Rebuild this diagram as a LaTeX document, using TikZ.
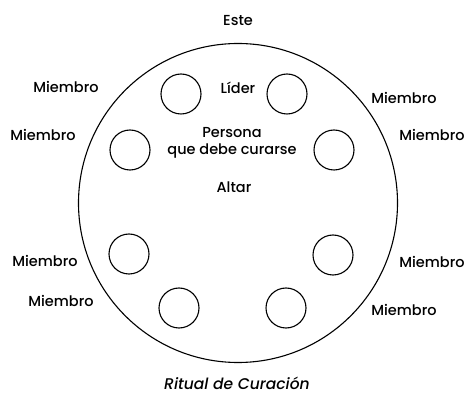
\documentclass[tikz,border=0pt]{standalone}
\usepackage{fontspec}
\setmainfont{Poppins Medium}[ItalicFont={Poppins Medium Italic}]
\begin{document}
\begin{tikzpicture}[x=1pt,y=-1pt,
  seat/.style={draw,circle,minimum size=40pt,inner sep=0pt,line width=1.1pt},
  lbl/.style={font=\fontsize{14.5}{16}\selectfont,inner sep=0pt},
]
\useasboundingbox (0,0) rectangle (466,395);
\node[draw,circle,minimum size=319pt,inner sep=0pt,line width=1.1pt] (ring) at (238,203) {};
\node[seat] (s1) at (181,94) {};
\node[seat] (s2) at (287,94) {};
\node[seat] (s3) at (130,150) {};
\node[seat] (s4) at (334,150) {};
\node[seat] (s5) at (129,254) {};
\node[seat] (s6) at (333,255) {};
\node[seat] (s7) at (179,308) {};
\node[seat] (s8) at (286,308) {};
\node[lbl] (este) at (238,21) {Este};
\node[lbl] (lider) at (238,88) {Líder};
\node[lbl,align=center,font=\fontsize{14.5}{17}\selectfont] (persona) at (232,143) {Persona\\que debe curarse};
\node[lbl] (altar) at (234,187) {Altar};
\node[lbl] (m1) at (66,87) {Miembro};
\node[lbl] (m2) at (43,135) {Miembro};
\node[lbl] (m3) at (45,261) {Miembro};
\node[lbl] (m4) at (61,301) {Miembro};
\node[lbl] (m5) at (404,98) {Miembro};
\node[lbl] (m6) at (432,135) {Miembro};
\node[lbl] (m7) at (432,262) {Miembro};
\node[lbl] (m8) at (404,310) {Miembro};
\node[lbl,font=\fontsize{15.5}{18}\selectfont\itshape] (title) at (237,383) {Ritual de Curación};
\end{tikzpicture}
\end{document}
